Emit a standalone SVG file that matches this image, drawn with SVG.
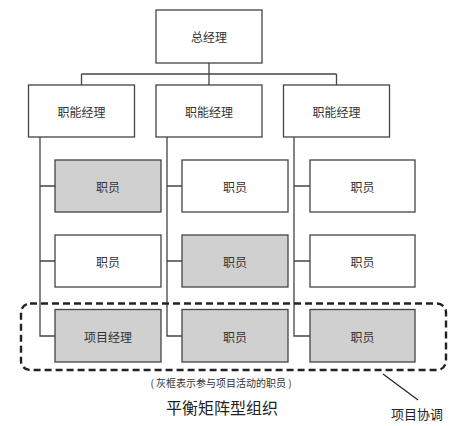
<svg xmlns="http://www.w3.org/2000/svg" width="472" height="426" viewBox="0 0 472 426">
<style>
.b{fill:#fff;stroke:#444;stroke-width:1.3}
.g{fill:#d0d0d0;stroke:#444;stroke-width:1.3}
.t{font-family:"Noto Sans CJK SC","Noto Sans",sans-serif;font-size:12px;fill:#333;text-anchor:middle;dominant-baseline:central}
.c{fill:none;stroke:#444;stroke-width:1.3}
</style>
<rect width="472" height="426" fill="#fff"/>
<g id="connectors">
<path class="c" d="M209 63V74M81.5 74H336.5M81.5 74V85M209 74V85M336.5 74V85"/>
<path class="c" d="M40 137V336H55M40 186H55M40 261H55"/>
<path class="c" d="M167 137V336H182M167 186H182M167 261H182"/>
<path class="c" d="M294 137V336H310M294 186H310M294 261H310"/>
<path fill="none" stroke="#222" stroke-width="1.2" d="M383 374L418 400"/>
</g>
<g id="gm"><rect class="b" x="156" y="10" width="106" height="53"/><text class="t" x="209" y="36.5">总经理</text></g>
<g id="fm1"><rect class="b" x="28.5" y="85" width="106" height="52"/><text class="t" x="81.5" y="111">职能经理</text></g>
<g id="fm2"><rect class="b" x="156" y="85" width="106" height="52"/><text class="t" x="209" y="111">职能经理</text></g>
<g id="fm3"><rect class="b" x="283.5" y="85" width="106" height="52"/><text class="t" x="336.5" y="111">职能经理</text></g>
<g id="s11"><rect class="g" x="55" y="160" width="106" height="52"/><text class="t" x="108" y="186">职员</text></g>
<g id="s21"><rect class="b" x="182" y="160" width="106" height="52"/><text class="t" x="235" y="186">职员</text></g>
<g id="s31"><rect class="b" x="310" y="160" width="105" height="52"/><text class="t" x="362.5" y="186">职员</text></g>
<g id="s12"><rect class="b" x="55" y="235" width="106" height="52"/><text class="t" x="108" y="261">职员</text></g>
<g id="s22"><rect class="g" x="182" y="235" width="106" height="52"/><text class="t" x="235" y="261">职员</text></g>
<g id="s32"><rect class="b" x="310" y="235" width="105" height="52"/><text class="t" x="362.5" y="261">职员</text></g>
<g id="pm"><rect class="g" x="55" y="309.5" width="106" height="52.5"/><text class="t" x="108" y="336">项目经理</text></g>
<g id="s23"><rect class="g" x="182" y="309.5" width="106" height="52.5"/><text class="t" x="235" y="336">职员</text></g>
<g id="s33"><rect class="g" x="310" y="309.5" width="105" height="52.5"/><text class="t" x="362.5" y="336">职员</text></g>
<g id="coord">
<rect x="21" y="303.5" width="425" height="66.5" rx="9" ry="9" fill="none" stroke="#222" stroke-width="2.4" stroke-dasharray="7 4"/>
</g>
<text class="t" x="221" y="382" style="font-size:10px">( 灰框表示参与项目活动的职员 )</text>
<text class="t" x="222" y="407" style="font-size:16px;fill:#222">平衡矩阵型组织</text>
<text class="t" x="417" y="413" style="font-size:13px;fill:#222">项目协调</text>
</svg>
